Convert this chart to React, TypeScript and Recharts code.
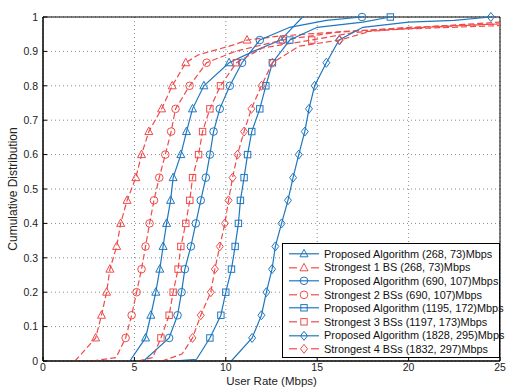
import React from 'react';
import {
  LineChart,
  Line,
  XAxis,
  YAxis,
  CartesianGrid,
  ReferenceArea
} from 'recharts';

// CDF levels where the markers sit
const markerLevels = [0.067, 0.133, 0.2, 0.267, 0.333, 0.4, 0.467, 0.533, 0.6, 0.667, 0.733, 0.8, 0.867, 0.933];

const xTicks = [0, 5, 10, 15, 20, 25];
const yTicks = [0, 0.1, 0.2, 0.3, 0.4, 0.5, 0.6, 0.7, 0.8, 0.9, 1];

// Proposed Algorithm (268, 73)Mbps
const p1Rate = [4.75, 5.61, 5.9, 6.17, 6.39, 6.57, 6.76, 6.98, 7.12, 7.54, 7.85, 8.18, 8.8, 10.18, 11.5, 13.0, 14.2];
const p1Cdf = [0, 0.067, 0.133, 0.2, 0.267, 0.333, 0.4, 0.467, 0.533, 0.6, 0.667, 0.733, 0.8, 0.867, 0.9, 0.933, 1];

// Strongest 1 BS (268, 73)Mbps
const s1Rate = [1.75, 2.88, 3.2, 3.48, 3.66, 4.03, 4.25, 4.6, 5.08, 5.39, 5.79, 6.49, 7.07, 7.81, 8.5, 10.5, 11.16, 13, 17, 25];
const s1Cdf = [0, 0.067, 0.133, 0.2, 0.267, 0.333, 0.4, 0.467, 0.533, 0.6, 0.667, 0.733, 0.8, 0.867, 0.89, 0.92, 0.933, 0.945, 0.96, 0.975];

// Proposed Algorithm (690, 107)Mbps
const p2Rate = [5.5, 6.9, 7.36, 7.58, 7.76, 8.09, 8.36, 8.63, 8.91, 9.13, 9.33, 9.67, 10.22, 10.89, 11.86, 13.5, 15.5, 17.45];
const p2Cdf = [0, 0.067, 0.133, 0.2, 0.267, 0.333, 0.4, 0.467, 0.533, 0.6, 0.667, 0.733, 0.8, 0.867, 0.933, 0.97, 0.99, 1];

// Strongest 2 BSs (690, 107)Mbps
const s2Rate = [2.7, 4.0, 4.52, 4.85, 5.12, 5.39, 5.61, 5.83, 6.07, 6.36, 6.69, 7.01, 7.25, 8.02, 8.95, 10.5, 13.1, 16, 20, 25];
const s2Cdf = [0, 0.01, 0.067, 0.133, 0.2, 0.267, 0.333, 0.4, 0.467, 0.533, 0.6, 0.667, 0.733, 0.8, 0.867, 0.9, 0.933, 0.955, 0.97, 0.98];

// Proposed Algorithm (1195, 172)Mbps
const p3Rate = [7.1, 8.4, 9.13, 9.73, 10.0, 10.31, 10.51, 10.69, 10.8, 11.0, 11.19, 11.42, 11.86, 12.19, 12.55, 13.5, 15, 17.5, 19];
const p3Cdf = [0, 0.005, 0.067, 0.133, 0.2, 0.267, 0.333, 0.4, 0.467, 0.533, 0.6, 0.667, 0.733, 0.8, 0.867, 0.933, 0.97, 0.985, 1];

// Strongest 3 BSs (1197, 173)Mbps
const s3Rate = [5.2, 6.0, 6.45, 6.9, 7.12, 7.39, 7.54, 7.81, 8.03, 8.18, 8.51, 8.73, 9.13, 9.71, 10.58, 12, 14.7, 17, 21, 25];
const s3Cdf = [0, 0.01, 0.067, 0.133, 0.2, 0.267, 0.333, 0.4, 0.467, 0.533, 0.6, 0.667, 0.733, 0.8, 0.867, 0.91, 0.933, 0.955, 0.97, 0.98];

// Proposed Algorithm (1828, 295)Mbps
const p4Rate = [10.3, 11.44, 11.95, 12.22, 12.53, 12.71, 13.05, 13.4, 13.68, 13.99, 14.32, 14.55, 14.86, 15.5, 16.2, 17.5, 20, 22.5, 24.5];
const p4Cdf = [0, 0.067, 0.133, 0.2, 0.267, 0.333, 0.4, 0.467, 0.533, 0.6, 0.667, 0.733, 0.8, 0.867, 0.933, 0.97, 0.985, 0.99, 1];

// Strongest 4 BSs (1832, 297)Mbps
const s4Rate = [6.5, 7.6, 8.18, 8.63, 9.18, 9.4, 9.67, 9.95, 10.15, 10.37, 10.64, 11.0, 11.4, 11.95, 12.55, 14, 16.23, 18, 22, 25];
const s4Cdf = [0, 0.02, 0.067, 0.133, 0.2, 0.267, 0.333, 0.4, 0.467, 0.533, 0.6, 0.667, 0.733, 0.8, 0.867, 0.915, 0.933, 0.96, 0.975, 0.985];

const BLUE = '#1f77c0';
const RED = '#f04a4a';
const FONT = '"Liberation Sans", Arial, sans-serif';

const toPoints = (rate: number[], cdf: number[]) =>
  rate.map((r, i) => ({ rate: r, cdf: cdf[i] }));

const series = [
  { name: 'Proposed Algorithm (268, 73)Mbps', data: toPoints(p1Rate, p1Cdf), color: BLUE, dashed: false, shape: 'triangle', top: false },
  { name: 'Strongest 1 BS (268, 73)Mbps', data: toPoints(s1Rate, s1Cdf), color: RED, dashed: true, shape: 'triangle', top: false },
  { name: 'Proposed Algorithm (690, 107)Mbps', data: toPoints(p2Rate, p2Cdf), color: BLUE, dashed: false, shape: 'circle', top: true },
  { name: 'Strongest 2 BSs (690, 107)Mbps', data: toPoints(s2Rate, s2Cdf), color: RED, dashed: true, shape: 'circle', top: false },
  { name: 'Proposed Algorithm (1195, 172)Mbps', data: toPoints(p3Rate, p3Cdf), color: BLUE, dashed: false, shape: 'square', top: true },
  { name: 'Strongest 3 BSs (1197, 173)Mbps', data: toPoints(s3Rate, s3Cdf), color: RED, dashed: true, shape: 'square', top: false },
  { name: 'Proposed Algorithm (1828, 295)Mbps', data: toPoints(p4Rate, p4Cdf), color: BLUE, dashed: false, shape: 'diamond', top: true },
  { name: 'Strongest 4 BSs (1832, 297)Mbps', data: toPoints(s4Rate, s4Cdf), color: RED, dashed: true, shape: 'diamond', top: false }
];

function Marker({ shape, x, y, color }: { shape: string; x: number; y: number; color: string }) {
  const common = { fill: 'none', stroke: color, strokeWidth: 1 };
  if (shape === 'triangle') {
    return <polygon points={`${x},${y - 4.5} ${x - 4},${y + 3} ${x + 4},${y + 3}`} {...common} />;
  }
  if (shape === 'circle') {
    return <circle cx={x} cy={y} r={3.8} {...common} />;
  }
  if (shape === 'square') {
    return <rect x={x - 3.2} y={y - 3.2} width={6.4} height={6.4} {...common} />;
  }
  return <polygon points={`${x},${y - 4.5} ${x + 3.5},${y} ${x},${y + 4.5} ${x - 3.5},${y}`} {...common} />;
}

const makeDot = (shape: string, color: string, top: boolean) => (props: any) => {
  const { cx, cy, payload, index } = props;
  const onLevel = markerLevels.some((l) => Math.abs(l - payload.cdf) < 1e-6);
  if (!onLevel && !(top && payload.cdf === 1)) return <g key={index} />;
  return (
    <g key={index}>
      <Marker shape={shape} x={cx} y={cy} color={color} />
    </g>
  );
};

const fmtY = (v: number) => (v === 0 || v === 1 ? String(v) : v.toFixed(1));

function ChartLegend() {
  return (
    <div
      style={{
        position: 'absolute',
        left: 282,
        top: 243,
        width: 216,
        height: 110,
        border: '1px solid #000',
        background: '#fff',
        paddingTop: 3,
        boxSizing: 'content-box',
        fontFamily: FONT,
        fontSize: 10.9,
        color: '#111'
      }}
    >
      {series.map((s) => (
        <div key={s.name} style={{ height: 13.6, display: 'flex', alignItems: 'center' }}>
          <svg width={41} height={13.6} style={{ flex: 'none' }}>
            {s.dashed ? (
              <>
                <line x1={6} y1={6.8} x2={14} y2={6.8} stroke={s.color} strokeWidth={1.2} />
                <line x1={28} y1={6.8} x2={36} y2={6.8} stroke={s.color} strokeWidth={1.2} />
              </>
            ) : (
              <line x1={6} y1={6.8} x2={36} y2={6.8} stroke={s.color} strokeWidth={1.2} />
            )}
            <Marker shape={s.shape} x={21} y={6.8} color={s.color} />
          </svg>
          <span style={{ whiteSpace: 'nowrap' }}>{s.name}</span>
        </div>
      ))}
    </div>
  );
}

export default function App() {
  return (
    <div style={{ position: 'absolute', left: 0, top: 0, width: 506, height: 387, background: '#fff', overflow: 'hidden' }}>
      <LineChart width={506} height={387} margin={{ top: 17, right: 6, bottom: 0, left: 0 }}>
        <CartesianGrid strokeDasharray="1 3" stroke="#8a8a8a" />
        <XAxis
          type="number"
          dataKey="rate"
          domain={[0, 25]}
          ticks={xTicks}
          height={26}
          tickSize={-4}
          tickMargin={7}
          axisLine={{ stroke: '#000' }}
          tickLine={{ stroke: '#000' }}
          tick={{ fill: '#222', fontSize: 10.5, fontFamily: FONT }}
          allowDuplicatedCategory={false}
          label={{ value: 'User Rate (Mbps)', position: 'insideBottom', offset: 2.5, fill: '#222', fontSize: 11.5, fontFamily: FONT }}
        />
        <YAxis
          type="number"
          domain={[0, 1]}
          ticks={yTicks}
          width={43}
          tickSize={-4}
          tickMargin={9}
          tickFormatter={fmtY}
          axisLine={{ stroke: '#000' }}
          tickLine={{ stroke: '#000' }}
          tick={{ fill: '#222', fontSize: 10.5, fontFamily: FONT }}
          label={{ value: 'Cumulative Distribution', angle: -90, position: 'insideLeft', offset: 13, style: { textAnchor: 'middle' }, fill: '#222', fontSize: 12, fontFamily: FONT }}
        />
        <ReferenceArea x1={0} x2={25} y1={0} y2={1} fill="none" stroke="#000" strokeWidth={1} ifOverflow="visible" />
        {series.map((s) => (
          <Line
            key={s.name}
            data={s.data}
            dataKey="cdf"
            type="linear"
            stroke={s.color}
            strokeWidth={1.2}
            strokeDasharray={s.dashed ? '6 3' : undefined}
            dot={makeDot(s.shape, s.color, s.top)}
            activeDot={false}
            isAnimationActive={false}
          />
        ))}
      </LineChart>
      <ChartLegend />
    </div>
  );
}
